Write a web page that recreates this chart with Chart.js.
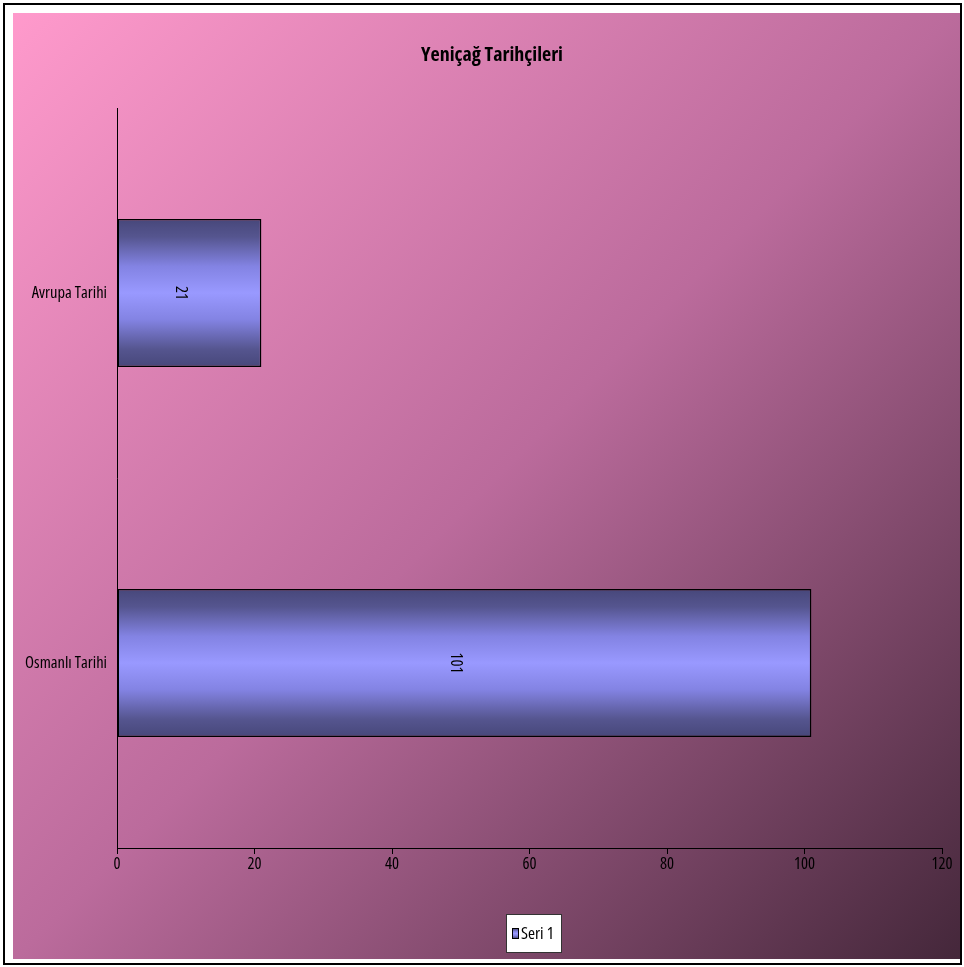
<!DOCTYPE html>
<html>
<head>
<meta charset="utf-8">
<script src="https://cdn.jsdelivr.net/npm/chart.js@4"></script>
<style>
  html, body { margin: 0; padding: 0; background: #fff; }
  #wrap { width: 964px; height: 967px; }
</style>
</head>
<body>
<div id="wrap"><canvas id="myChart" width="964" height="967"></canvas></div>
<script>
const categories = ["Avrupa Tarihi", "Osmanlı Tarihi"];
const seriesName = "Seri 1";
const seriesValues = [21, 101];
const xTicks = [0, 20, 40, 60, 80, 100, 120];
const chartTitle = "Yeniçağ Tarihçileri";

// condensed face of Open Sans, closest to the narrow font of the original
const fam = "'Open Sans', 'Liberation Sans', sans-serif";
Chart.defaults.font.family = fam;
Chart.defaults.color = "#000";

function barGradient(ctx, top, bottom) {
  const g = ctx.createLinearGradient(0, top, 0, bottom);
  g.addColorStop(0, "#47477a");
  g.addColorStop(0.12, "#55558f");
  g.addColorStop(0.32, "#8383e3");
  g.addColorStop(0.5, "#9999ff");
  g.addColorStop(0.68, "#8383e3");
  g.addColorStop(0.88, "#55558f");
  g.addColorStop(1, "#47477a");
  return g;
}

// page background, frame, title and legend box
const backdrop = {
  id: "backdrop",
  beforeDraw(chart) {
    const c = chart.ctx;
    c.save();
    c.fillStyle = "#fff";
    c.fillRect(0, 0, chart.width, chart.height);
    const g = c.createLinearGradient(13, 13, 962, 959);
    g.addColorStop(0, "#ff9acc");
    g.addColorStop(0.5, "#bb6b9c");
    g.addColorStop(1, "#44273a");
    c.fillStyle = g;
    c.fillRect(13, 13, 949, 946);
    c.strokeStyle = "#000";
    c.lineWidth = 2;
    c.strokeRect(4, 4, 957, 960);
    c.restore();
  },
  afterDraw(chart) {
    const c = chart.ctx;
    c.save();
    // title, a little right of the centre as in the original
    c.fillStyle = "#000";
    c.font = "bold condensed 20px " + fam;
    c.textAlign = "center";
    c.textBaseline = "middle";
    c.fillText(chartTitle, 492, 55);
    // legend
    c.fillStyle = "#fff";
    c.fillRect(506, 914, 55, 38);
    c.strokeStyle = "#333";
    c.lineWidth = 1;
    c.strokeRect(506.5, 914.5, 55, 38);
    c.fillStyle = barGradient(c, 928, 939);
    c.fillRect(512, 928, 7, 11);
    c.strokeStyle = "#000";
    c.strokeRect(512.5, 928.5, 6, 10);
    c.fillStyle = "#000";
    c.font = "condensed 17px " + fam;
    c.textAlign = "left";
    c.fillText(chart.data.datasets[0].label, 521, 934);
    c.restore();
  }
};

// value labels, rotated, in the middle of each bar
const valueLabels = {
  id: "valueLabels",
  afterDatasetsDraw(chart) {
    const c = chart.ctx;
    const meta = chart.getDatasetMeta(0);
    c.save();
    c.font = "condensed 16.5px " + fam;
    c.fillStyle = "#000";
    c.textAlign = "center";
    c.textBaseline = "top";
    meta.data.forEach((bar, i) => {
      const x = (bar.base + bar.x) / 2;
      c.save();
      c.translate(x, bar.y);
      c.rotate(Math.PI / 2);
      c.fillText(String(chart.data.datasets[0].data[i]), 0, 0);
      c.restore();
    });
    c.restore();
  }
};

const ctx = document.getElementById("myChart");

new Chart(ctx, {
  type: "bar",
  data: {
    labels: categories,
    datasets: [
      {
        label: seriesName,
        data: seriesValues,
        backgroundColor: (context) => {
          const chart = context.chart;
          const yScale = chart.scales.y;
          if (!chart.chartArea || !yScale) return "#9999ff";
          const band = (chart.chartArea.bottom - chart.chartArea.top) / categories.length;
          const y = yScale.getPixelForValue(context.dataIndex);
          const h = band * 0.4;
          return barGradient(chart.ctx, y - h / 2, y + h / 2);
        },
        borderColor: "#000",
        borderWidth: 1.5,
        borderSkipped: false,
        categoryPercentage: 1,
        barPercentage: 0.4,
      },
    ],
  },
  options: {
    indexAxis: "y",
    responsive: false,
    animation: false,
    layout: { padding: { top: 108, left: 0, right: 22, bottom: 89 } },
    plugins: {
      legend: { display: false },
      tooltip: { enabled: false },
      title: { display: false },
    },
    scales: {
      x: {
        type: "linear",
        min: 0,
        max: 120,
        afterFit: (scale) => { scale.height = 30; },
        afterBuildTicks: (scale) => {
          scale.ticks = xTicks.map((v) => ({ value: v }));
        },
        ticks: { font: { size: 16.5, weight: "condensed" }, padding: 0, maxRotation: 0, color: "#000" },
        grid: {
          display: true,
          drawOnChartArea: false,
          drawTicks: true,
          tickLength: 6,
          color: "#000",
        },
        border: { display: true, color: "#000", width: 1 },
      },
      y: {
        afterFit: (scale) => { scale.width = 117; },
        ticks: { font: { size: 16.5, weight: "condensed" }, padding: 10, color: "#000" },
        grid: { display: false, drawTicks: false },
        border: { display: true, color: "#000", width: 1 },
      },
    },
  },
  plugins: [backdrop, valueLabels],
});
</script>
</body>
</html>
